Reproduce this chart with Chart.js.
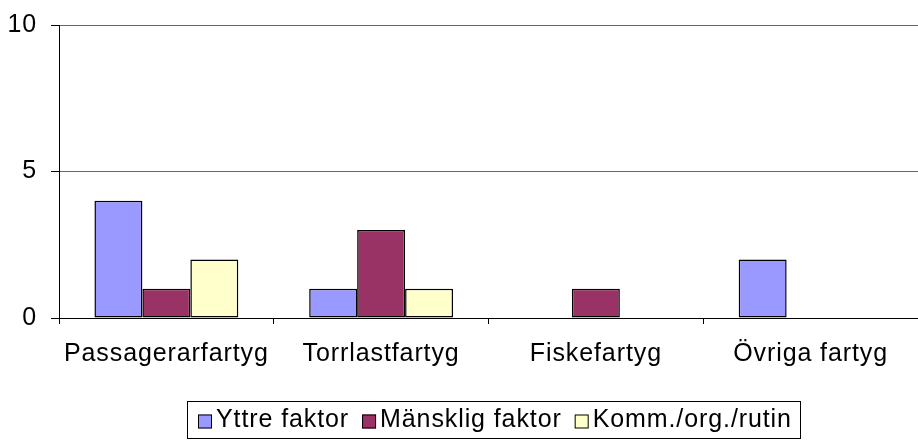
<!DOCTYPE html>
<html>
<head>
<meta charset="utf-8">
<script src="https://cdn.jsdelivr.net/npm/chart.js@4"></script>
<style>
  body { margin: 0; background: #fff; }
  #wrap { width: 918px; height: 442px; }
</style>
</head>
<body>
<div id="wrap"><canvas id="chart" width="918" height="442"></canvas></div>
<script>
const categories = ["Passagerarfartyg", "Torrlastfartyg", "Fiskefartyg", "Övriga fartyg"];
const yttre = [4, 1, 0, 2];
const mansklig = [1, 3, 1, 0];
const komm = [2, 1, 0, 0];
const yTicks = [0, 5, 10];

const fontFamily = "'Liberation Sans', Arial, sans-serif";
const font = { family: fontFamily, size: 25 };

// the original text is a bit wider than plain Arial, so space the letters out
const spacing = {
  id: 'spacing',
  beforeUpdate(chart) { chart.ctx.letterSpacing = '0.9px'; },
  beforeDraw(chart) { chart.ctx.letterSpacing = '0.9px'; }
};

// boxed legend drawn by hand: small square, short gap, label
const boxedLegend = {
  id: 'boxedLegend',
  afterDraw(chart) {
    const ctx = chart.ctx;
    ctx.save();
    ctx.letterSpacing = '0.9px';
    ctx.font = `25px ${fontFamily}`;
    ctx.textBaseline = 'middle';
    const items = chart.data.datasets.map(d => ({
      label: d.label, color: d.backgroundColor, w: ctx.measureText(d.label).width
    }));
    const box = 14, gap = 4, itemGap = 13, padL = 11, padR = 8;
    const total = padL + padR + items.reduce((s, it) => s + box + gap + it.w, 0) + itemGap * (items.length - 1);
    const left = 187, top = 401, height = 37;
    ctx.strokeStyle = '#000';
    ctx.lineWidth = 1;
    ctx.strokeRect(left + 0.5, top + 0.5, Math.round(total), height);
    const midY = top + height / 2 + 1;
    let x = left + padL;
    items.forEach(it => {
      ctx.fillStyle = it.color;
      ctx.fillRect(x, midY - box / 2 + 1, box, box);
      ctx.strokeRect(x + 0.5, midY - box / 2 + 1.5, box - 1, box - 1);
      ctx.fillStyle = '#000';
      ctx.fillText(it.label, x + box + gap, midY);
      x += box + gap + it.w + itemGap;
    });
    ctx.restore();
  }
};

const ds = (label, data, color) => ({
  label, data,
  backgroundColor: color,
  borderColor: '#000',
  borderWidth: 1.5,
  borderSkipped: false
});

new Chart(document.getElementById('chart'), {
  type: 'bar',
  data: {
    labels: categories,
    datasets: [
      ds('Yttre faktor', yttre, '#9999FF'),
      ds('Mänsklig faktor', mansklig, '#993366'),
      ds('Komm./org./rutin', komm, '#FFFFCC')
    ]
  },
  options: {
    responsive: false,
    animation: false,
    categoryPercentage: 0.67,
    barPercentage: 1,
    layout: { padding: { top: 25, right: 0, left: 0, bottom: 0 } },
    plugins: {
      tooltip: { enabled: false },
      legend: { display: false }
    },
    scales: {
      x: {
        afterFit(scale) { scale.height = 124; },
        grid: { drawOnChartArea: false, drawTicks: true, tickLength: 6, color: '#000' },
        border: { color: '#000', width: 1 },
        ticks: { font: font, color: '#000', padding: 15, maxRotation: 0 }
      },
      y: {
        min: 0, max: 10,
        afterFit(scale) {
          scale.width = 59;
          scale.paddingTop = 0;
          scale.paddingBottom = 0;
        },
        afterBuildTicks(scale) { scale.ticks = yTicks.map(v => ({ value: v })); },
        grid: { color: '#666', tickColor: '#000', tickLength: 8, lineWidth: 1 },
        border: { color: '#000', width: 1 },
        ticks: { font: font, color: '#000', padding: 14 }
      }
    }
  },
  plugins: [spacing, boxedLegend]
});
</script>
</body>
</html>
